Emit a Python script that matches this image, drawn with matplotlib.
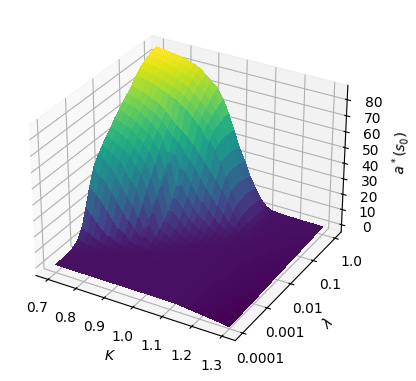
import numpy as np
import matplotlib
matplotlib.use("Agg")
import matplotlib.pyplot as plt

kappa = [0.70, 0.72, 0.74, 0.76, 0.78, 0.80, 0.82, 0.84, 0.86, 0.88, 0.90, 0.92, 0.94, 0.96, 0.98, 1.00,
         1.02, 1.04, 1.06, 1.08, 1.10, 1.12, 1.14, 1.16, 1.18, 1.20, 1.22, 1.24, 1.26, 1.28, 1.30]
log_lam = [-4.0, -3.83, -3.67, -3.5, -3.33, -3.17, -3.0, -2.83, -2.67, -2.5, -2.33, -2.17, -2.0,
           -1.83, -1.67, -1.5, -1.33, -1.17, -1.0, -0.83, -0.67, -0.5, -0.33, -0.17, 0.0]
# a*(s0), one row per lambda
a_star = [
    [0.4, 0.4, 0.4, 0.4, 0.4, 0.4, 0.4, 0.4, 0.4, 0.4, 0.4, 0.4, 0.4, 0.4, 0.4, 0.4, 0.4, 0.4, 0.4, 0.4, 0.4, 0.3, -0.1, -0.5, -0.9, -1.3, -1.7, -2.1, -2.5, -3.0, -3.5],
    [0.5, 0.5, 0.4, 0.4, 0.4, 0.4, 0.4, 0.4, 0.4, 0.4, 0.4, 0.4, 0.4, 0.4, 0.4, 0.4, 0.4, 0.4, 0.4, 0.4, 0.4, 0.3, -0.1, -0.5, -0.8, -1.2, -1.6, -2.0, -2.4, -2.9, -3.3],
    [0.7, 0.6, 0.5, 0.5, 0.4, 0.4, 0.4, 0.4, 0.4, 0.4, 0.4, 0.4, 0.4, 0.4, 0.4, 0.4, 0.4, 0.4, 0.4, 0.4, 0.4, 0.3, -0.1, -0.4, -0.8, -1.2, -1.5, -1.9, -2.3, -2.7, -3.2],
    [1.1, 0.9, 0.7, 0.6, 0.5, 0.5, 0.4, 0.4, 0.4, 0.4, 0.4, 0.4, 0.4, 0.4, 0.4, 0.4, 0.4, 0.4, 0.4, 0.4, 0.4, 0.3, 0.0, -0.4, -0.7, -1.1, -1.4, -1.8, -2.2, -2.6, -3.0],
    [2.0, 1.5, 1.1, 0.8, 0.7, 0.6, 0.5, 0.5, 0.4, 0.4, 0.4, 0.4, 0.4, 0.4, 0.4, 0.4, 0.4, 0.4, 0.4, 0.4, 0.4, 0.3, 0.0, -0.3, -0.7, -1.0, -1.3, -1.7, -2.0, -2.4, -2.8],
    [4.5, 3.2, 2.2, 1.5, 1.1, 0.8, 0.6, 0.5, 0.5, 0.5, 0.4, 0.4, 0.4, 0.4, 0.4, 0.4, 0.4, 0.4, 0.4, 0.4, 0.4, 0.3, 0.0, -0.3, -0.6, -0.9, -1.3, -1.6, -1.9, -2.3, -2.7],
    [10.0, 7.5, 5.5, 3.5, 2.3, 1.5, 1.0, 0.8, 0.6, 0.5, 0.5, 0.5, 0.4, 0.4, 0.4, 0.4, 0.4, 0.4, 0.4, 0.4, 0.4, 0.3, 0.0, -0.3, -0.6, -0.9, -1.2, -1.5, -1.8, -2.2, -2.5],
    [21.0, 17.0, 13.0, 9.0, 6.0, 4.0, 2.5, 1.6, 1.1, 0.8, 0.7, 0.6, 0.6, 0.5, 0.5, 0.5, 0.4, 0.4, 0.4, 0.4, 0.4, 0.3, 0.0, -0.2, -0.5, -0.8, -1.1, -1.4, -1.7, -2.0, -2.4],
    [32.0, 29.0, 25.0, 20.0, 15.0, 10.0, 7.0, 4.0, 2.2, 2.6, 1.3, 1.0, 0.9, 0.8, 0.6, 0.5, 0.5, 0.5, 0.4, 0.4, 0.4, 0.3, 0.1, -0.2, -0.5, -0.7, -1.0, -1.3, -1.5, -1.9, -2.2],
    [42.0, 38.0, 35.0, 30.0, 25.0, 19.0, 14.0, 9.0, 5.0, 6.0, 3.0, 2.0, 1.5, 1.0, 0.8, 0.6, 0.5, 0.5, 0.5, 0.4, 0.4, 0.3, 0.1, -0.2, -0.4, -0.7, -0.9, -1.2, -1.4, -1.7, -2.1],
    [47.0, 45.0, 42.0, 38.0, 33.0, 27.0, 22.0, 15.0, 8.0, 11.0, 5.0, 3.5, 2.5, 1.5, 1.0, 0.7, 0.6, 0.5, 0.5, 0.4, 0.4, 0.3, 0.1, -0.1, -0.4, -0.6, -0.8, -1.0, -1.3, -1.6, -1.9],
    [51.0, 49.0, 47.0, 44.0, 40.0, 35.0, 30.0, 21.0, 12.0, 17.0, 8.0, 6.0, 4.0, 2.5, 1.5, 1.0, 0.8, 0.6, 0.5, 0.4, 0.4, 0.3, 0.1, -0.1, -0.3, -0.5, -0.7, -0.9, -1.2, -1.4, -1.7],
    [55.0, 53.0, 51.0, 49.0, 46.0, 41.0, 37.0, 28.0, 17.0, 24.0, 11.0, 10.0, 7.0, 4.5, 2.8, 1.8, 1.2, 0.8, 0.6, 0.5, 0.4, 0.3, 0.2, -0.1, -0.3, -0.5, -0.6, -0.9, -1.0, -1.3, -1.5],
    [58.0, 57.0, 55.0, 53.0, 50.0, 46.0, 42.0, 34.0, 22.0, 30.0, 15.0, 15.0, 11.0, 7.5, 5.0, 3.0, 2.0, 1.3, 0.8, 0.6, 0.5, 0.4, 0.2, 0.0, -0.2, -0.4, -0.6, -0.8, -0.9, -1.2, -1.4],
    [62.0, 60.0, 59.0, 57.0, 54.0, 51.0, 47.0, 40.0, 28.0, 36.0, 20.0, 21.0, 16.0, 11.0, 8.0, 5.5, 3.5, 2.2, 1.3, 0.8, 0.6, 0.5, 0.3, 0.0, -0.2, -0.3, -0.5, -0.7, -0.8, -1.0, -1.2],
    [65.0, 64.0, 62.0, 60.0, 58.0, 55.0, 52.0, 46.0, 35.0, 41.0, 27.0, 28.0, 22.0, 16.0, 12.0, 9.0, 6.0, 3.8, 2.2, 1.3, 0.8, 0.6, 0.3, 0.1, -0.1, -0.2, -0.4, -0.5, -0.7, -0.9, -1.1],
    [68.0, 67.0, 66.0, 64.0, 62.0, 59.0, 56.0, 51.0, 44.0, 44.0, 37.0, 35.0, 29.0, 23.0, 18.0, 14.0, 10.0, 6.5, 4.0, 2.2, 1.2, 0.8, 0.5, 0.2, 0.0, -0.2, -0.3, -0.4, -0.6, -0.7, -0.9],
    [71.0, 70.0, 69.0, 67.0, 65.0, 63.0, 60.0, 56.0, 52.0, 49.0, 45.0, 41.0, 37.0, 31.0, 26.0, 21.0, 16.0, 11.0, 7.0, 4.0, 2.0, 1.1, 0.7, 0.3, 0.1, -0.1, -0.2, -0.3, -0.4, -0.6, -0.7],
    [74.0, 73.0, 72.0, 70.5, 69.0, 67.0, 64.0, 61.0, 58.0, 55.0, 52.0, 48.0, 44.0, 39.0, 35.0, 30.0, 24.0, 17.0, 11.0, 6.0, 3.0, 1.5, 0.9, 0.5, 0.2, 0.0, -0.1, -0.2, -0.3, -0.4, -0.6],
    [78.0, 77.5, 77.0, 76.0, 74.5, 73.0, 71.5, 70.0, 67.5, 65.0, 62.0, 58.0, 54.0, 50.0, 45.0, 38.0, 30.0, 22.0, 14.0, 8.0, 3.5, 1.7, 1.0, 0.6, 0.3, 0.1, 0.0, -0.1, -0.2, -0.3, -0.4],
    [81.0, 80.0, 79.5, 78.5, 77.5, 76.0, 74.5, 73.0, 71.0, 68.0, 65.0, 61.0, 57.0, 53.0, 47.0, 39.0, 31.0, 23.0, 15.0, 8.5, 4.0, 1.8, 1.0, 0.7, 0.4, 0.2, 0.0, 0.0, -0.1, -0.2, -0.3],
    [83.0, 82.5, 82.0, 81.0, 80.0, 79.0, 77.5, 76.0, 74.0, 71.0, 68.0, 64.0, 60.0, 55.0, 48.0, 39.0, 31.0, 23.0, 15.0, 9.0, 4.0, 1.8, 1.1, 0.8, 0.5, 0.3, 0.1, 0.1, 0.0, 0.0, -0.1],
    [85.0, 84.5, 84.0, 83.5, 82.5, 81.5, 80.0, 79.0, 77.0, 74.0, 71.0, 67.0, 62.0, 56.0, 48.0, 39.0, 31.0, 22.0, 15.0, 8.5, 4.0, 1.7, 1.1, 0.8, 0.6, 0.4, 0.2, 0.2, 0.2, 0.1, 0.1],
    [86.0, 85.5, 85.0, 84.5, 84.0, 83.0, 82.0, 81.0, 79.0, 76.0, 73.0, 70.0, 64.0, 57.0, 48.0, 38.0, 30.0, 21.0, 14.0, 8.0, 3.5, 1.5, 1.0, 0.8, 0.6, 0.5, 0.3, 0.3, 0.3, 0.2, 0.2],
    [87.0, 86.5, 86.0, 85.5, 85.0, 84.0, 83.0, 82.0, 80.0, 77.0, 74.0, 71.0, 65.0, 57.0, 47.0, 37.0, 29.0, 20.0, 13.0, 7.0, 3.0, 1.3, 0.9, 0.7, 0.6, 0.5, 0.4, 0.4, 0.4, 0.4, 0.4],
]
kappa_ticks = [0.7, 0.8, 0.9, 1.0, 1.1, 1.2, 1.3]
lam_ticks = [-4, -3, -2, -1, 0]
lam_labels = ["0.0001", "0.001", "0.01", "0.1", "1.0"]
z_ticks = [0, 10, 20, 30, 40, 50, 60, 70, 80]

fig = plt.figure(figsize=(4.16, 3.81), dpi=100)
ax = fig.add_axes([0.022, 0.047, 0.853, 0.932], projection="3d")

X, Y = np.meshgrid(kappa, log_lam)
Z = np.array(a_star)
ax.plot_surface(X, Y, Z, cmap="viridis", rstride=1, cstride=1, linewidth=0, antialiased=False)

ax.set_xticks(kappa_ticks)
ax.set_yticks(lam_ticks)
ax.set_yticklabels(lam_labels)
ax.set_zticks(z_ticks)
ax.set_zlim(-4.8, 88.8)
ax.set_xlabel(r"$K$")
ax.set_ylabel(r"$\lambda$")
ax.set_zlabel(r"$a^*(s_0)$")

fig.savefig("out.png", dpi=100)
